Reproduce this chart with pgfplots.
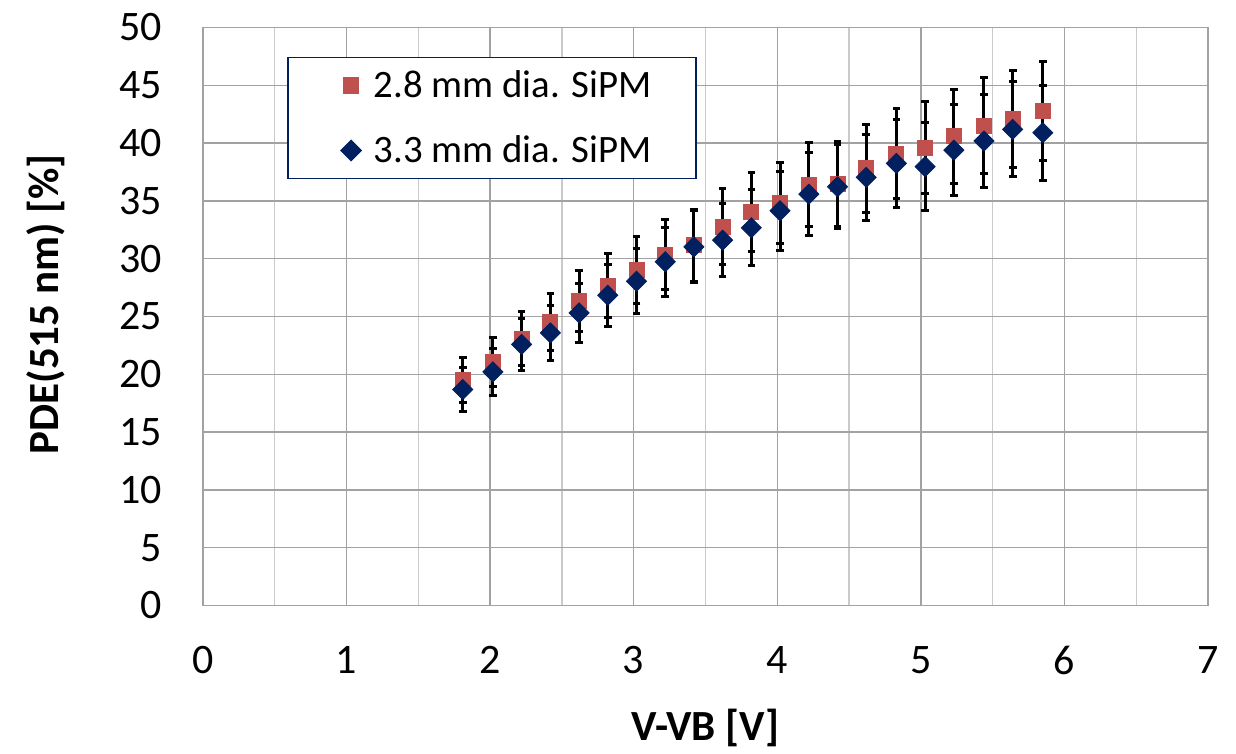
\documentclass[border=0pt]{standalone}
\usepackage{pgfplots}
\pgfplotsset{compat=1.18}
\usepackage{pgfplotstable}
\usepackage{fontspec}
\setmainfont{Carlito}
\definecolor{sqred}{RGB}{192,80,77}
\definecolor{dianavy}{RGB}{0,32,96}
\definecolor{gridmaj}{RGB}{162,162,162}
\definecolor{gridmin}{RGB}{202,202,202}
\pgfplotstableread{
x sq dia
1.81 19.49 18.68
2.02 21.07 20.21
2.22 23.10 22.58
2.42 24.53 23.58
2.62 26.32 25.31
2.82 27.65 26.84
3.02 29.00 28.05
3.22 30.36 29.73
3.42 31.17 31.02
3.62 32.76 31.60
3.82 34.05 32.67
4.02 34.83 34.14
4.22 36.42 35.58
4.42 36.45 36.22
4.62 37.81 37.03
4.83 39.10 38.24
5.03 39.59 37.95
5.23 40.60 39.39
5.44 41.50 40.17
5.64 42.07 41.18
5.85 42.77 40.89
}\datatab
\begin{document}
\begin{tikzpicture}
\begin{axis}[
  name=ax,
  scale only axis,
  width=502.5pt, height=289pt,
  xmin=0, xmax=7, ymin=0, ymax=50,
  xtick={0,1,...,7}, ytick={0,5,...,50},
  minor xtick={0.5,1.5,...,6.5},
  grid=both,
  major grid style={draw=gridmaj, line width=0.7pt},
  minor grid style={draw=gridmin, line width=0.7pt},
  axis line style={draw=gridmaj, line width=0.7pt},
  major tick length=0pt, minor tick length=0pt,
  tick label style={font=\fontsize{21}{25}\selectfont},
  /pgf/number format/assume math mode=true,
  xticklabel style={yshift=-17pt},
  yticklabel style={xshift=-17pt},
  xlabel={\textbf{V-VB [V]}},
  ylabel={\textbf{PDE(515 nm) [\%]}},
  every axis x label/.style={at={(rel axis cs:0.5,0)}, anchor=base, yshift=-67.4pt, font=\fontsize{21.5}{25}\selectfont},
  every axis y label/.style={at={(rel axis cs:0,0.521)}, anchor=center, xshift=-78.4pt, rotate=90, font=\fontsize{21.5}{25}\selectfont},
  legend style={at={(0.0841,0.949)}, anchor=north west, draw=dianavy, line width=0.7pt,
    font=\fontsize{19.4}{23}\selectfont, inner xsep=20pt, inner ysep=4.5pt, row sep=13.5pt,
    /tikz/every odd column/.append style={column sep=4.4pt}},
  legend cell align=left,
  legend image code/.code={\path[draw=none,fill=none] (-11.5pt,0pt) -- (0pt,0pt); \draw[#1] plot coordinates {(0pt,0pt)};},
  clip=false,
]
\addplot[forget plot, draw=none, mark=none,
  error bars/.cd, y dir=both, y fixed relative=0.1,
  error bar style={draw=black, line width=1.5pt},
  error mark options={draw=black, rotate=90, mark size=1.9pt, line width=1.5pt}]
  table[x=x, y=sq] {\datatab};
\addplot[forget plot, draw=none, mark=none,
  error bars/.cd, y dir=both, y fixed relative=0.1,
  error bar style={draw=black, line width=1.5pt},
  error mark options={draw=black, rotate=90, mark size=1.9pt, line width=1.5pt}]
  table[x=x, y=dia] {\datatab};
\addplot[only marks, mark=square*, mark size=3.75pt, draw=sqred, fill=sqred]
  table[x=x, y=sq] {\datatab};
\addlegendentry{2.8 mm dia. SiPM}
\addplot[only marks, mark=square*, mark size=3.55pt, mark options={rotate=45}, draw=dianavy, fill=dianavy]
  table[x=x, y=dia] {\datatab};
\addlegendentry{3.3 mm dia. SiPM}
\end{axis}
\path ([xshift=-101.4pt,yshift=-70.4pt]ax.south west) rectangle ([xshift=14pt,yshift=13.7pt]ax.north east);
\end{tikzpicture}
\end{document}
